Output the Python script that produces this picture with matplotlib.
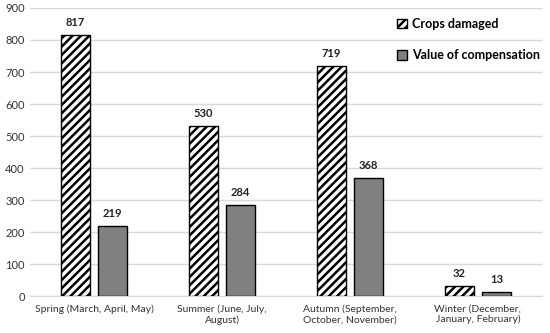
import numpy as np
import matplotlib.pyplot as plt

plt.rcParams['font.family'] = ['Lato', 'DejaVu Sans']
plt.rcParams['hatch.linewidth'] = 1.8

seasons = ["Spring (March, April, May)", "Summer (June, July,\nAugust)",
           "Autumn (September,\nOctober, November)", "Winter (December,\nJanuary, February)"]
crops_damaged = [817, 530, 719, 32]
compensation = [219, 284, 368, 13]

fig = plt.figure(figsize=(5.5, 3.33), dpi=100)
ax = fig.add_axes([0.055, 0.111, 0.93, 0.865])

x = np.arange(len(seasons))
w = 0.227
off = 0.145
b1 = ax.bar(x - off, crops_damaged, w, color="white", edgecolor="black",
            hatch="////", lw=1, label="Crops damaged", zorder=3)
b2 = ax.bar(x + off, compensation, w, color="#808080", edgecolor="black",
            lw=1, label="Value of compensation", zorder=3)

for bars, vals in ((b1, crops_damaged), (b2, compensation)):
    for r, v in zip(bars, vals):
        ax.text(r.get_x() + r.get_width() / 2, v + 22, str(v), ha="center",
                va="bottom", fontsize=8, fontweight="bold", color="#222222")

ax.set_xlim(-0.5, 3.5)
ax.set_ylim(0, 900)
ax.set_yticks(range(0, 901, 100))
ax.set_xticks(x)
ax.set_xticklabels(seasons, fontsize=7.5, color="#333333")
ax.tick_params(axis="y", labelsize=8, colors="#333333", length=0, pad=4)
ax.tick_params(axis="x", length=0, pad=6)
ax.yaxis.grid(True, color="#d9d9d9", lw=1, zorder=0)
for s in ("top", "right", "left"):
    ax.spines[s].set_visible(False)
ax.spines["bottom"].set_color("#d9d9d9")

ax.legend(loc="upper left", bbox_to_anchor=(0.695, 1.005), frameon=False,
          prop={"weight": "bold", "size": 9}, handlelength=0.8, handleheight=0.8,
          handletextpad=0.4, labelspacing=1.55)

fig.savefig("out.png", dpi=100)
